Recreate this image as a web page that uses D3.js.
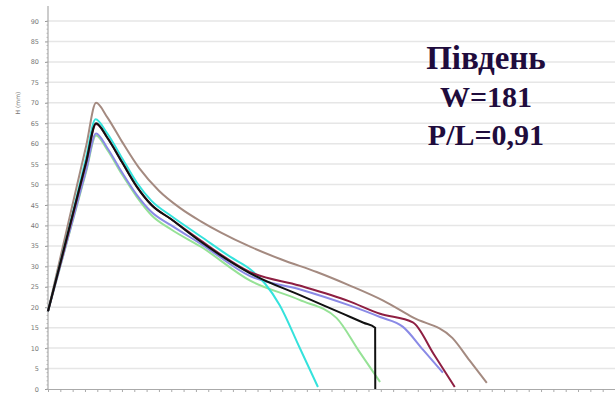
<!DOCTYPE html>
<html>
<head>
<meta charset="utf-8">
<script src="https://cdn.jsdelivr.net/npm/d3@7"></script>
<style>
  body { margin: 0; background: #fff; }
  svg { display: block; }
</style>
</head>
<body>
<div id="chart"></div>
<script>
// y ticks (H, mm)
const yTicks = [0, 5, 10, 15, 20, 25, 30, 35, 40, 45, 50, 55, 60, 65, 70, 75, 80, 85, 90]

// curves: [x, H]
const brown = [[0,19],[8,40],[15.5,59.5],[19.5,70],[24,66.5],[30,60.5],[37,54],[45,48.5],[53.5,44.3],[62,41],[70,38.3],[82,34.8],[95,31.6],[109,28.6],[122,25.4],[136,21.6],[148,17.5],[164,12.5],[171,7],[178,1.5]]
const green = [[0,19],[8,36.6],[15.5,53.2],[19.5,62],[24,58.5],[30,52.5],[36,47],[42,42.5],[50,39],[62,34.8],[82,26.5],[102,21.8],[117,17.4],[126,9.4],[134.7,1.7]]
const blue = [[0,19],[8,36.8],[15.5,53.6],[19.5,62.5],[24,59],[30,53],[36,47.5],[42,43.3],[50,40],[62,35.5],[82,27.6],[102,24.4],[122,20.5],[134.7,17.6],[144,15.2],[152,9.7],[160.2,4]]
const cyan = [[0,19],[8,38],[15.5,56.7],[19.3,66],[24,62.5],[30,56.5],[36,50.5],[42,46],[50,42.3],[62,37.3],[74,32.3],[82,29.3],[88,25.8],[94,20.5],[102,10.2],[109.5,0.5]]
const maroon = [[0,19],[8,37.6],[15.5,55.4],[19.5,64.8],[24,61.5],[30,55.5],[36,49.5],[42,45],[50,41.5],[62,36.3],[82,28.6],[102,25.3],[122,21.5],[134.7,18.4],[148,16.3],[156.5,8.5],[165,0.5]]
const black = [[0,19],[8,37.9],[15.5,55.6],[19.5,65],[24,61.5],[30,55.5],[36,49.5],[42,45],[50,41.5],[62,36],[82,28.3],[102,23],[120,18.3],[128,16.2],[132.7,15],[132.75,0]]

const series = [
  {name: 'brown', values: brown, color: '#a48a80'},
  {name: 'green', values: green, color: '#96e296'},
  {name: 'blue', values: blue, color: '#8a8ae6'},
  {name: 'cyan', values: cyan, color: '#35e2dc'},
  {name: 'maroon', values: maroon, color: '#8e1f42'},
  {name: 'black', values: black, color: '#111111'},
]

const titleLines = ['Південь', 'W=181', 'P/L=0,91']

const width = 615, height = 394
const chart = {left: 48, right: 615, top: 21, bottom: 389}

const svg = d3.select('#chart').append('svg')
  .attr('width', width)
  .attr('height', height)

const x = d3.scaleLinear().domain([0, 230]).range([chart.left, chart.right])
const y = d3.scaleLinear().domain([0, 90]).range([chart.bottom, chart.top])

// grid
svg.append('g')
  .selectAll('line')
  .data(yTicks.filter(d => d > 0))
  .enter()
    .append('line')
    .attr('x1', chart.left)
    .attr('x2', width)
    .attr('y1', d => y(d))
    .attr('y2', d => y(d))
    .attr('stroke', '#e6e6e6')
    .attr('stroke-width', 1.5)

// y axis
const yAxis = svg.append('g')
  .attr('transform', `translate(${chart.left},0)`)
  .call(d3.axisLeft(y).tickValues(yTicks).tickSize(3).tickPadding(6))
yAxis.select('.domain').remove()
yAxis.selectAll('.tick line').attr('stroke', '#999')
yAxis.selectAll('text')
  .attr('fill', '#777')
  .style('font-family', 'DejaVu Sans, sans-serif')
  .style('font-size', '6.5px')

// minor y ticks
svg.append('g')
  .selectAll('line')
  .data(d3.range(0, 91, 1))
  .enter()
    .append('line')
    .attr('x1', chart.left - 1.5)
    .attr('x2', chart.left)
    .attr('y1', d => y(d))
    .attr('y2', d => y(d))
    .attr('stroke', '#bbb')

svg.append('line')
  .attr('x1', chart.left).attr('x2', chart.left)
  .attr('y1', 6).attr('y2', chart.bottom)
  .attr('stroke', '#aaa')
  .attr('stroke-width', 1.2)

// x axis
const xAxis = svg.append('g')
  .attr('transform', `translate(0,${chart.bottom})`)
  .call(d3.axisBottom(x).tickValues(d3.range(0, 231, 5)).tickSize(3).tickFormat(''))
xAxis.select('.domain').attr('stroke', '#aaa')
xAxis.selectAll('.tick line').attr('stroke', '#aaa')

svg.append('text')
  .attr('transform', 'translate(20,103) rotate(-90)')
  .attr('text-anchor', 'middle')
  .attr('fill', '#777')
  .style('font-family', 'DejaVu Sans, sans-serif')
  .style('font-size', '6px')
  .text('H (mm)')

// curves
const line = d3.line()
  .x(d => x(d[0]))
  .y(d => y(d[1]))
  .curve(d3.curveMonotoneX)

svg.append('g')
  .selectAll('path')
  .data(series)
  .enter()
    .append('path')
    .attr('d', d => line(d.values))
    .attr('fill', 'none')
    .attr('stroke', d => d.color)
    .attr('stroke-width', 2)

// title block
svg.append('g')
  .selectAll('text')
  .data(titleLines)
  .enter()
    .append('text')
    .attr('x', 486)
    .attr('y', (d, i) => 69 + i * 38)
    .attr('text-anchor', 'middle')
    .attr('fill', '#1f0c3d')
    .style('font-family', 'Liberation Serif, serif')
    .style('font-weight', 'bold')
    .style('font-size', (d, i) => i === 0 ? '33px' : '30px')
    .text(d => d)
</script>
</body>
</html>
